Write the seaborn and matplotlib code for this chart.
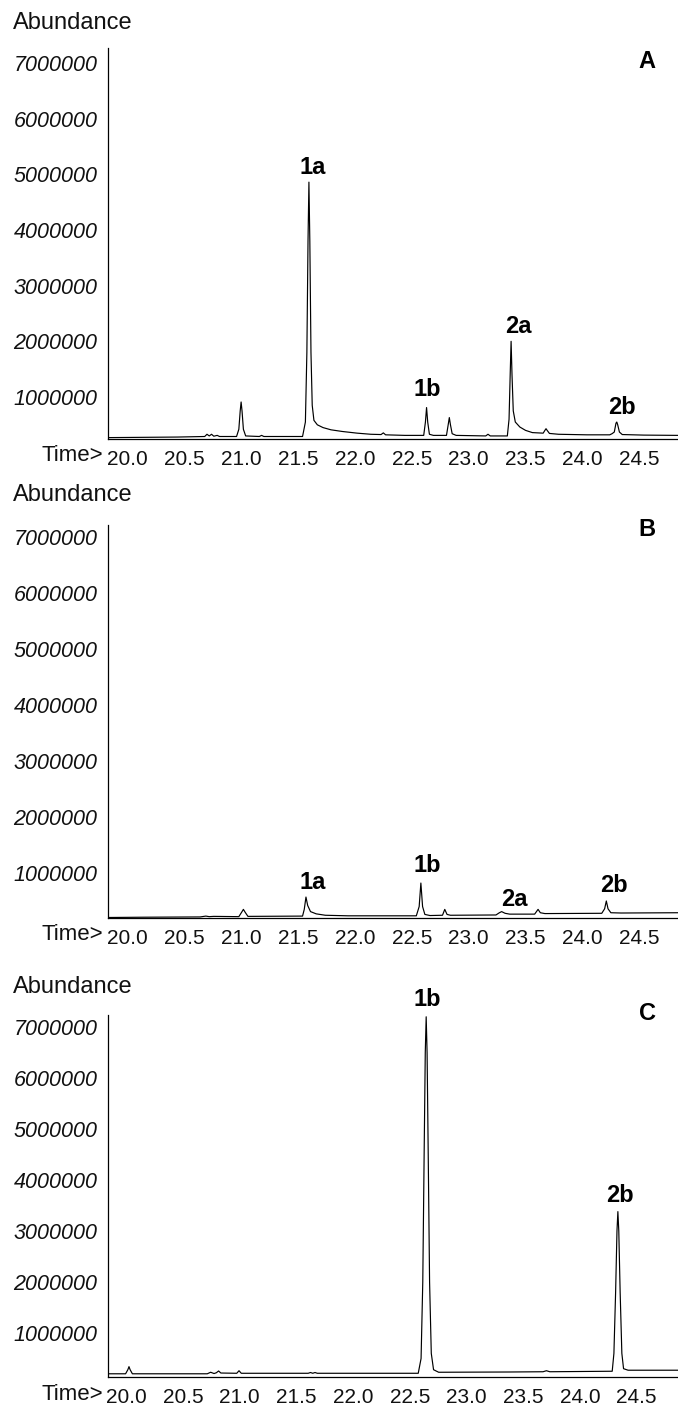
import numpy as np
import pandas as pd
import matplotlib
matplotlib.use("Agg")
import matplotlib.pyplot as plt
import seaborn as sns
from matplotlib.ticker import FixedLocator, MultipleLocator
from matplotlib.transforms import ScaledTranslation

# ---------------- data ----------------
# abundances are given in millions
time_A = [19.99, 20.30, 20.60, 20.84, 20.86, 20.88, 20.90, 20.92, 20.95, 20.97,
          21.12, 21.14, 21.152, 21.16, 21.168, 21.18, 21.20, 21.32, 21.34, 21.36,
          21.70, 21.725, 21.738, 21.748, 21.756, 21.764, 21.774, 21.785, 21.80, 21.83,
          21.88, 21.95, 22.05, 22.18, 22.30, 22.39, 22.41, 22.43, 22.60, 22.765,
          22.78, 22.79, 22.80, 22.815, 22.85, 22.965, 22.98, 22.99, 23.00, 23.015,
          23.05, 23.31, 23.33, 23.35, 23.50, 23.515, 23.525, 23.533, 23.541, 23.552,
          23.57, 23.61, 23.66, 23.72, 23.815, 23.83, 23.84, 23.85, 23.87, 23.95,
          24.20, 24.40, 24.42, 24.44, 24.455, 24.462, 24.47, 24.485, 24.51, 24.70,
          25.00]
abund_A = [0.27, 0.275, 0.28, 0.29, 0.33, 0.30, 0.33, 0.295, 0.31, 0.29,
           0.29, 0.42, 0.75, 0.91, 0.75, 0.42, 0.30, 0.29, 0.31, 0.29,
           0.29, 0.55, 1.8, 3.8, 4.86, 3.8, 1.8, 0.85, 0.58, 0.50,
           0.45, 0.41, 0.38, 0.35, 0.33, 0.325, 0.355, 0.32, 0.31, 0.31,
           0.55, 0.81, 0.55, 0.33, 0.31, 0.31, 0.50, 0.63, 0.50, 0.34,
           0.31, 0.30, 0.33, 0.30, 0.30, 0.60, 1.40, 2.00, 1.40, 0.75,
           0.55, 0.46, 0.40, 0.36, 0.35, 0.40, 0.43, 0.40, 0.345, 0.33,
           0.32, 0.32, 0.34, 0.37, 0.53, 0.55, 0.50, 0.37, 0.325, 0.315,
           0.31]

time_B = [19.99, 20.30, 20.80, 20.85, 20.88, 20.92, 21.14, 21.165, 21.18, 21.195,
          21.22, 21.70, 21.715, 21.73, 21.745, 21.77, 21.82, 21.90, 22.10, 22.70,
          22.725, 22.74, 22.755, 22.775, 22.82, 22.93, 22.95, 22.97, 23.00, 23.40,
          23.43, 23.45, 23.48, 23.52, 23.74, 23.77, 23.79, 23.83, 24.33, 24.355,
          24.37, 24.385, 24.41, 24.50, 25.00]
abund_B = [0.205, 0.21, 0.215, 0.23, 0.22, 0.225, 0.22, 0.30, 0.35, 0.30,
           0.225, 0.23, 0.35, 0.57, 0.42, 0.31, 0.27, 0.245, 0.235, 0.235,
           0.40, 0.82, 0.40, 0.26, 0.24, 0.245, 0.35, 0.26, 0.245, 0.25,
           0.29, 0.31, 0.28, 0.265, 0.265, 0.35, 0.29, 0.275, 0.28, 0.36,
           0.50, 0.36, 0.29, 0.285, 0.29]

time_C = [19.965, 20.12, 20.14, 20.15, 20.16, 20.18, 20.84, 20.87, 20.90, 20.92,
          20.94, 20.96, 21.10, 21.12, 21.14, 21.73, 21.75, 21.77, 21.79, 21.81,
          22.70, 22.725, 22.74, 22.752, 22.762, 22.770, 22.778, 22.788, 22.80, 22.815,
          22.835, 22.88, 23.50, 23.80, 23.83, 23.86, 24.41, 24.425, 24.44, 24.452,
          24.46, 24.468, 24.48, 24.495, 24.51, 24.55, 25.00]
abund_C = [0.20, 0.20, 0.28, 0.34, 0.28, 0.20, 0.20, 0.23, 0.205, 0.22,
           0.255, 0.215, 0.21, 0.26, 0.21, 0.21, 0.225, 0.21, 0.225, 0.21,
           0.21, 0.50, 2.00, 4.50, 6.50, 7.20, 6.50, 4.50, 2.00, 0.60,
           0.28, 0.23, 0.235, 0.24, 0.26, 0.24, 0.25, 0.60, 1.80, 3.00,
           3.38, 3.00, 1.80, 0.60, 0.30, 0.27, 0.27]

labels_A = ["1a", "1b", "2a", "2b"]
label_time_A = [21.756, 22.79, 23.533, 24.462]
label_abund_A = [4.86, 0.81, 2.00, 0.55]

labels_B = ["1a", "1b", "2a", "2b"]
label_time_B = [21.73, 22.74, 23.45, 24.37]
label_abund_B = [0.57, 0.82, 0.31, 0.50]

labels_C = ["1b", "2b"]
label_time_C = [22.770, 24.46]
label_abund_C = [7.20, 3.38]

panel_letters = ["A", "B", "C"]
x_ticks = [20.0, 20.5, 21.0, 21.5, 22.0, 22.5, 23.0, 23.5, 24.0, 24.5]
x_tick_labels = ["20.0", "20.5", "21.0", "21.5", "22.0", "22.5", "23.0", "23.5", "24.0", "24.5"]
y_ticks = [1e6, 2e6, 3e6, 4e6, 5e6, 6e6, 7e6]
y_tick_labels = ["1000000", "2000000", "3000000", "4000000", "5000000", "6000000", "7000000"]

# ---------------- style ----------------
sns.set_theme(style="white")
plt.rcParams["font.family"] = ["Liberation Sans", "DejaVu Sans"]
plt.rcParams["axes.linewidth"] = 0.9

W, H = 678, 1408
fig = plt.figure(figsize=(W / 100, H / 100), dpi=100)

def px_rect(x0, y0, x1, y1):
    return [x0 / W, 1 - y1 / H, (x1 - x0) / W, (y1 - y0) / H]

panels = [
    dict(t=time_A, a=abund_A, lt=label_time_A, la=label_abund_A, lab=labels_A,
         rect=(108, 48, 678, 439), ylim=(0.245e6, 7.27e6), xlim=(19.99, 25.0),
         offs=[(4, 15), (1, 18), (7, 15), (5, 15)], xoff=-2, abund_y=23, time_y=455,
         letter_y=62),
    dict(t=time_B, a=abund_B, lt=label_time_B, la=label_abund_B, lab=labels_B,
         rect=(108, 525, 678, 918), ylim=(0.196e6, 7.21e6), xlim=(19.99, 25.0),
         offs=[(7, 15), (6, 18), (13, 12), (8, 15)], xoff=-2, abund_y=495, time_y=935,
         letter_y=530),
    dict(t=time_C, a=abund_C, lt=label_time_C, la=label_abund_C, lab=labels_C,
         rect=(108, 1015, 678, 1377), ylim=(0.137e6, 7.235e6), xlim=(19.965, 24.99),
         offs=[(1, 17), (2, 16)], xoff=-6, abund_y=987, time_y=1394,
         letter_y=1014),
]

for i, p in enumerate(panels):
    ax = fig.add_axes(px_rect(*p["rect"]))
    df = pd.DataFrame({"time": p["t"], "abundance": np.array(p["a"]) * 1e6})
    sns.lineplot(data=df, x="time", y="abundance", ax=ax, color="black",
                 linewidth=0.85, estimator=None, sort=False)
    ax.set_xlim(*p["xlim"])
    ax.set_ylim(*p["ylim"])
    ax.set_xlabel("")
    ax.set_ylabel("")
    for s in ["top", "right"]:
        ax.spines[s].set_visible(False)
    for s in ["left", "bottom"]:
        ax.spines[s].set_color("black")

    ax.xaxis.set_major_locator(FixedLocator(x_ticks))
    ax.xaxis.set_minor_locator(MultipleLocator(0.1))
    ax.yaxis.set_major_locator(FixedLocator(y_ticks))
    ax.yaxis.set_minor_locator(MultipleLocator(125000))
    ax.tick_params(axis="x", which="major", direction="out", length=5, width=0.8,
                   color="black", pad=3, labelsize=15, labelcolor="#111111")
    ax.tick_params(axis="x", which="minor", direction="out", length=3, width=0.7,
                   color="black")
    ax.tick_params(axis="y", which="major", direction="out", length=3.5, width=0.8,
                   color="black", pad=4, labelsize=15.5, labelcolor="#111111")
    ax.tick_params(axis="y", which="minor", direction="out", length=2, width=0.6,
                   color="black")
    ax.set_xticklabels(x_tick_labels, ha="left")
    ax.set_yticklabels(y_tick_labels, fontstyle="italic")
    off = ScaledTranslation(p["xoff"] / 100, 0, fig.dpi_scale_trans)
    for tk in ax.xaxis.get_major_ticks():
        tk.label1.set_transform(tk.label1.get_transform() + off)

    for lab, tt, aa, (dx, dy) in zip(p["lab"], p["lt"], p["la"], p["offs"]):
        ax.annotate(lab, xy=(tt, aa * 1e6), xytext=(dx, dy), textcoords="offset pixels",
                    ha="center", va="center", fontsize=17, fontweight="bold",
                    color="black", annotation_clip=False)

    fig.text(13 / W, 1 - p["abund_y"] / H, "Abundance", ha="left", va="center",
             fontsize=17, color="#111111")
    fig.text(103 / W, 1 - p["time_y"] / H, "Time>", ha="right", va="center",
             fontsize=16, color="#111111")
    fig.text(647 / W, 1 - p["letter_y"] / H, panel_letters[i], ha="center", va="center",
             fontsize=17, fontweight="bold", color="black")

fig.savefig("out.png", dpi=100, facecolor="white")
